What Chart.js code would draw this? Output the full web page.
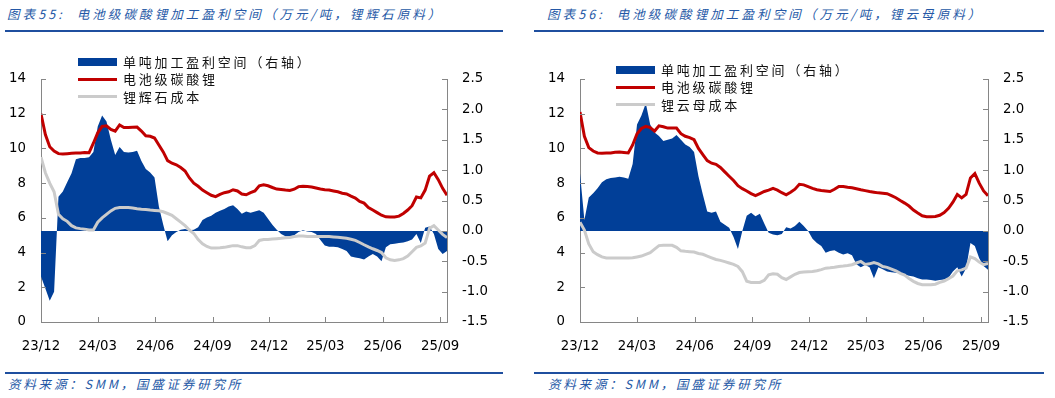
<!DOCTYPE html>
<html>
<head>
<meta charset="utf-8">
<script src="https://cdn.jsdelivr.net/npm/chart.js@4.4.1/dist/chart.umd.min.js"></script>
<style>
  html, body { margin: 0; padding: 0; background: #fff; }
  body { width: 1055px; height: 398px; position: relative; overflow: hidden; font-family: "Noto Sans CJK SC", "DejaVu Sans", sans-serif; }
  .title, .source { position: absolute; font-style: italic; color: #2458a6; font-size: 12.5px; letter-spacing: 3.1px; line-height: 16px; white-space: nowrap; }
  .source { letter-spacing: 2.8px; }
  .rule { position: absolute; height: 2px; background: #1f4f9f; }
  canvas { position: absolute; top: 40px; }
  .legend { position: absolute; z-index: 2; font-size: 13px; letter-spacing: 2.8px; color: #111; }
  .legend .row { position: absolute; left: 0; height: 18px; line-height: 18px; white-space: nowrap; }
  .legend .sw { position: absolute; left: 0; width: 39px; }
  .legend .txt { position: absolute; left: 45px; top: 0; }
</style>
</head>
<body>
<div class="title" style="left:7px; top:6px;">图表55:&nbsp; 电池级碳酸锂加工盈利空间（万元/吨，锂辉石原料）</div>
<div class="rule" style="left:5px; top:30px; width:498px;"></div>
<div class="title" style="left:547px; top:6px;">图表56:&nbsp; 电池级碳酸锂加工盈利空间（万元/吨，锂云母原料）</div>
<div class="rule" style="left:534px; top:30px; width:510px;"></div>

<canvas id="leftChart" width="505" height="325" style="left:0px; width:505px; height:325px;"></canvas>
<canvas id="rightChart" width="528" height="325" style="left:527px; width:528px; height:325px;"></canvas>

<div class="legend" id="leftLegend" style="left:78px; top:53px;"></div>
<div class="legend" id="rightLegend" style="left:616px; top:61px;"></div>

<div class="rule" style="left:5px; top:372px; width:498px;"></div>
<div class="source" style="left:8px; top:376px;">资料来源：SMM，国盛证券研究所</div>
<div class="rule" style="left:534px; top:372px; width:510px;"></div>
<div class="source" style="left:548px; top:376px;">资料来源：SMM，国盛证券研究所</div>

<script>
// weekly samples from 2023-12-01 to 2025-09-12
const startDate = '2023-12-01';
const weekCount = 94;
const tickLabels = ['23/12', '24/03', '24/06', '24/09', '24/12', '25/03', '25/06', '25/09'];

const legendNames = ['单吨加工盈利空间（右轴）', '电池级碳酸锂'];
const costNameLeft = '锂辉石成本';
const costNameRight = '锂云母成本';

// 锂辉石原料 (spodumene)
const spodMargin = [-0.75, -0.95, -1.15, -1.0, 0.56, 0.65, 0.8, 0.95, 1.18, 1.2,
  1.2, 1.21, 1.3, 1.72, 1.9, 1.8, 1.5, 1.25, 1.38, 1.3,
  1.29, 1.3, 1.32, 1.15, 1.02, 0.96, 0.88, 0.4, 0.1, -0.17,
  -0.07, -0.02, 0.02, 0.03, 0.01, 0.02, 0.06, 0.18, 0.22, 0.25,
  0.3, 0.33, 0.36, 0.4, 0.42, 0.36, 0.28, 0.32, 0.3, 0.32,
  0.34, 0.3, 0.2, 0.1, 0.02, -0.05, -0.09, -0.09, -0.07, -0.02,
  0.01, -0.01, -0.02, -0.05, -0.15, -0.24, -0.26, -0.26, -0.27, -0.3,
  -0.33, -0.42, -0.44, -0.45, -0.47, -0.42, -0.38, -0.42, -0.5, -0.27,
  -0.22, -0.21, -0.2, -0.19, -0.17, -0.14, -0.05, -0.2, 0.05, 0.07,
  -0.05, -0.3, -0.38, -0.33];
const spodPrice = [12.0, 10.8, 10.1, 9.85, 9.7, 9.68, 9.7, 9.72, 9.73, 9.74,
  9.76, 9.75, 10.3, 10.9, 11.27, 11.3, 11.1, 11.0, 11.35, 11.2,
  11.2, 11.22, 11.23, 11.0, 10.73, 10.7, 10.6, 10.2, 9.8, 9.3,
  9.15, 9.06, 8.9, 8.7, 8.3, 8.0, 7.82, 7.6, 7.45, 7.3,
  7.22, 7.35, 7.45, 7.5, 7.62, 7.55, 7.37, 7.33, 7.45, 7.55,
  7.85, 7.9, 7.85, 7.75, 7.66, 7.63, 7.6, 7.58, 7.65, 7.8,
  7.82, 7.8, 7.78, 7.72, 7.66, 7.62, 7.6, 7.55, 7.5, 7.42,
  7.38, 7.25, 7.14, 6.95, 6.85, 6.6, 6.45, 6.3, 6.15, 6.06,
  6.05, 6.05, 6.1, 6.25, 6.45, 6.7, 7.2, 7.15, 7.6, 8.4,
  8.6, 8.2, 7.7, 7.3];
const spodCost = [9.5, 8.6, 8.0, 7.5, 6.2, 5.95, 5.8, 5.55, 5.42, 5.38,
  5.35, 5.3, 5.3, 5.75, 6.0, 6.2, 6.4, 6.55, 6.6, 6.6,
  6.6, 6.57, 6.53, 6.5, 6.48, 6.45, 6.43, 6.41, 6.35, 6.25,
  6.15, 5.95, 5.75, 5.55, 5.3, 5.1, 4.75, 4.5, 4.35, 4.26,
  4.27, 4.28, 4.3, 4.35, 4.4, 4.4, 4.33, 4.28, 4.28, 4.4,
  4.7, 4.75, 4.76, 4.78, 4.8, 4.82, 4.85, 4.87, 4.92, 4.96,
  4.95, 4.93, 4.93, 4.93, 4.93, 4.92, 4.92, 4.9, 4.88, 4.86,
  4.82, 4.77, 4.7, 4.58, 4.45, 4.33, 4.22, 4.12, 4.0, 3.7,
  3.58, 3.55, 3.58, 3.65, 3.8, 4.05, 4.3, 4.38, 4.55, 5.4,
  5.55, 5.3, 5.05, 4.87];

// 锂云母原料 (lepidolite)
const lepiMargin = [0.95, 0.18, 0.55, 0.62, 0.7, 0.8, 0.85, 0.87, 0.88, 0.89,
  0.88, 0.86, 1.1, 1.75, 1.9, 2.1, 1.75, 1.62, 1.56, 1.48,
  1.5, 1.52, 1.58, 1.5, 1.42, 1.38, 1.3, 0.9, 0.6, 0.32,
  0.3, 0.32, 0.15, 0.1, 0.05, -0.1, -0.3, 0.0, 0.25, 0.3,
  0.24, 0.28, 0.12, -0.03, -0.06, -0.07, -0.05, 0.06, 0.04, 0.08,
  0.15, 0.08, 0.0, -0.13, -0.2, -0.25, -0.36, -0.33, -0.32, -0.36,
  -0.39, -0.37, -0.4, -0.55, -0.6, -0.56, -0.6, -0.78, -0.6, -0.63,
  -0.67, -0.68, -0.69, -0.7, -0.72, -0.74, -0.75, -0.78, -0.8, -0.8,
  -0.81, -0.82, -0.81, -0.8, -0.77, -0.67, -0.6, -0.75, -0.62, -0.2,
  -0.25, -0.45, -0.58, -0.64];
const lepiPrice = [12.1, 10.7, 10.05, 9.85, 9.74, 9.72, 9.73, 9.74, 9.78, 9.8,
  9.77, 9.74, 10.2, 10.85, 11.15, 11.27, 11.2, 11.0, 11.3, 11.25,
  11.17, 11.17, 11.17, 10.85, 10.7, 10.62, 10.5, 10.0, 9.65, 9.3,
  9.15, 9.08, 8.9, 8.65, 8.4, 8.15, 7.85, 7.68, 7.55, 7.4,
  7.28, 7.4, 7.52, 7.6, 7.7, 7.6, 7.45, 7.33, 7.48, 7.65,
  7.93, 7.9, 7.8, 7.7, 7.62, 7.58, 7.55, 7.52, 7.65, 7.81,
  7.8, 7.76, 7.73, 7.68, 7.62, 7.57, 7.52, 7.48, 7.44, 7.42,
  7.39, 7.28, 7.16, 7.0, 6.85, 6.68, 6.45, 6.28, 6.12, 6.06,
  6.07, 6.08, 6.15, 6.3, 6.55, 6.9, 7.35, 7.15, 7.35, 8.3,
  8.55, 8.0, 7.55, 7.28];
const lepiCost = [5.75, 5.3, 4.5, 4.05, 3.88, 3.75, 3.69, 3.69, 3.69, 3.69,
  3.69, 3.69, 3.7, 3.75, 3.8, 3.9, 4.0, 4.2, 4.4, 4.42,
  4.42, 4.42, 4.3, 4.1, 4.07, 4.05, 4.03, 3.95, 3.9, 3.8,
  3.7, 3.6, 3.55, 3.48, 3.4, 3.32, 3.2, 2.9, 2.35, 2.28,
  2.28, 2.28, 2.4, 2.72, 2.78, 2.75, 2.55, 2.45, 2.6, 2.75,
  2.85, 2.88, 2.9, 2.91, 2.95, 3.02, 3.1, 3.12, 3.15, 3.2,
  3.22, 3.25, 3.3, 3.4, 3.49, 3.32, 3.35, 3.43, 3.35, 3.2,
  3.15, 3.05, 2.95, 2.8, 2.7, 2.5, 2.34, 2.22, 2.15, 2.15,
  2.15, 2.18, 2.28, 2.36, 2.5, 2.65, 2.95, 3.0, 3.1, 3.75,
  3.65, 3.45, 3.3, 3.38];

const BLUE = '#013f98';
const RED = '#c00000';
const GRAY = '#cbcbcb';
const AXIS = '#868686';

const DAY = 24 * 3600 * 1000;
const t0 = Date.parse(startDate + 'T00:00:00Z');
const weekDays = [];
for (let i = 0; i < weekCount; i++) weekDays.push(i * 7);
const tickDays = tickLabels.map(l => {
    const [yy, mm] = l.split('/');
    return (Date.parse('20' + yy + '-' + mm + '-01T00:00:00Z') - t0) / DAY;
});

const toPoints = arr => arr.map((v, i) => ({ x: weekDays[i], y: v }));

// small tick marks drawn inside the plot, like the original
const innerTicks = {
    id: 'innerTicks',
    afterDraw(chart) {
        const { ctx, chartArea: a, scales } = chart;
        ctx.save();
        ctx.strokeStyle = AXIS;
        ctx.lineWidth = 1;
        ctx.beginPath();
        scales.x.ticks.forEach(t => {
            const px = Math.round(scales.x.getPixelForValue(t.value)) + 0.5;
            ctx.moveTo(px, a.bottom);
            ctx.lineTo(px, a.bottom - 5);
        });
        scales.y.ticks.forEach(t => {
            const py = Math.round(scales.y.getPixelForValue(t.value)) + 0.5;
            ctx.moveTo(a.left, py);
            ctx.lineTo(a.left + 5, py);
        });
        scales.y1.ticks.forEach(t => {
            const py = Math.round(scales.y1.getPixelForValue(t.value)) + 0.5;
            ctx.moveTo(a.right, py);
            ctx.lineTo(a.right - 5, py);
        });
        ctx.stroke();
        ctx.restore();
    }
};

const tickFont = { family: 'DejaVu Sans', size: 13.3 };

function makeChart(id, margin, price, cost, costName, leftW, rightW) {
    const ctx = document.getElementById(id).getContext('2d');
    return new Chart(ctx, {
        type: 'line',
        data: {
            datasets: [
                { label: costName, data: toPoints(cost), yAxisID: 'y', borderColor: GRAY, borderWidth: 3, fill: false, order: 2 },
                { label: legendNames[1], data: toPoints(price), yAxisID: 'y', borderColor: RED, borderWidth: 3, fill: false, order: 1 },
                { label: legendNames[0], data: toPoints(margin), yAxisID: 'y1', borderColor: BLUE, borderWidth: 0, backgroundColor: BLUE, fill: 'origin', order: 3 }
            ]
        },
        options: {
            responsive: false,
            animation: false,
            layout: { padding: { top: 39, left: 0, right: 0, bottom: 0 } },
            elements: { point: { radius: 0 }, line: { tension: 0 } },
            plugins: { legend: { display: false }, tooltip: { enabled: false } },
            scales: {
                x: {
                    type: 'linear',
                    min: 0,
                    max: weekDays[weekDays.length - 1],
                    grid: { display: false, drawTicks: false },
                    border: { color: AXIS },
                    afterBuildTicks: s => { s.ticks = tickDays.map(v => ({ value: v })); },
                    afterFit: s => { s.height = 43; },
                    ticks: { autoSkip: false, maxRotation: 0, padding: 17, color: '#000', font: tickFont,
                        callback: (v, i) => tickLabels[i] }
                },
                y: {
                    position: 'left',
                    min: 0, max: 14,
                    grid: { display: false, drawTicks: false },
                    border: { color: AXIS },
                    afterFit: s => { s.width = leftW; },
                    ticks: { stepSize: 2, padding: 15, color: '#000', font: tickFont }
                },
                y1: {
                    position: 'right',
                    min: -1.5, max: 2.5,
                    grid: { display: false, drawTicks: false },
                    border: { color: AXIS },
                    afterFit: s => { s.width = rightW; },
                    ticks: { stepSize: 0.5, padding: 15, color: '#000', font: tickFont,
                        callback: v => v.toFixed(1) }
                }
            }
        },
        plugins: [innerTicks]
    });
}

function buildLegend(id, costName) {
    const el = document.getElementById(id);
    const rows = [
        { name: legendNames[0], color: BLUE, h: 8 },
        { name: legendNames[1], color: RED, h: 3 },
        { name: costName, color: GRAY, h: 3 }
    ];
    rows.forEach((r, i) => {
        const row = document.createElement('div');
        row.className = 'row';
        row.style.top = (i * 17.3) + 'px';
        const sw = document.createElement('div');
        sw.className = 'sw';
        sw.style.background = r.color;
        sw.style.height = r.h + 'px';
        sw.style.top = (9 - r.h / 2) + 'px';
        const tx = document.createElement('div');
        tx.className = 'txt';
        tx.textContent = r.name;
        row.appendChild(sw);
        row.appendChild(tx);
        el.appendChild(row);
    });
}

makeChart('leftChart', spodMargin, spodPrice, spodCost, costNameLeft, 41, 58);
makeChart('rightChart', lepiMargin, lepiPrice, lepiCost, costNameRight, 53, 67);
buildLegend('leftLegend', costNameLeft);
buildLegend('rightLegend', costNameRight);
</script>
</body>
</html>
